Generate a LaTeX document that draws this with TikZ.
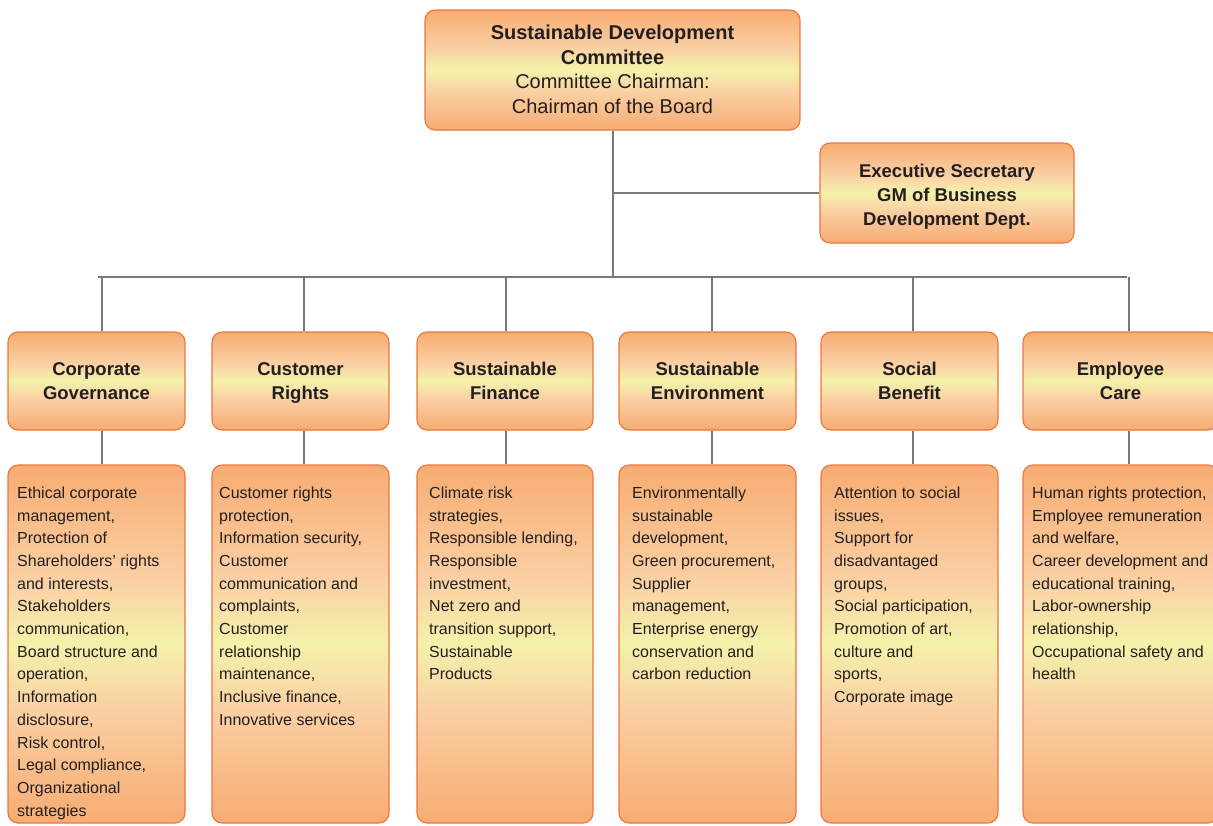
\documentclass[tikz,border=0pt]{standalone}
\usepackage{fontspec}
\setmainfont{Liberation Sans}
\definecolor{boxorange}{RGB}{247,172,114}
\definecolor{boxpeach}{RGB}{250,208,164}
\definecolor{boxyellow}{RGB}{244,242,170}
\definecolor{boxrim}{RGB}{236,118,62}
\definecolor{wiregray}{RGB}{120,120,120}
\definecolor{ink}{RGB}{35,31,32}
\pgfdeclareverticalshading{sunset}{100bp}{color(0bp)=(boxorange); color(25bp)=(boxorange); color(41bp)=(boxpeach); color(50bp)=(boxyellow); color(59bp)=(boxpeach); color(75bp)=(boxorange); color(100bp)=(boxorange)}

\begin{document}
\begin{tikzpicture}[x=1pt, y=1pt,
  box/.style={draw=boxrim, line width=1.1pt, rounded corners=10pt, shading=sunset, text=ink, align=center, inner sep=0pt},
  head/.style={box, minimum width=177, minimum height=98, text height=36pt, text depth=0pt, font=\bfseries\fontsize{18.5}{24}\selectfont},
  list/.style={box, minimum width=177, minimum height=358},
  words/.style={anchor=north west, align=left, inner sep=0pt, text=ink, font=\fontsize{16}{22.7}\selectfont},
  wire/.style={draw=wiregray, line width=1.6pt}]
  \useasboundingbox (0,0) rectangle (1213,-825);

  % committee and secretary
  \node[box, minimum width=375, minimum height=120, text height=86pt, text depth=0pt, font=\fontsize{20}{24.5}\selectfont] (top) at (612.5,-70)
    {\textbf{Sustainable Development}\\\textbf{Committee}\\Committee Chairman:\\Chairman of the Board};
  \node[box, minimum width=254, minimum height=100, text height=64pt, text depth=0pt, font=\bfseries\fontsize{18.5}{24}\selectfont] (exec) at (947,-193)
    {Executive Secretary\\GM of Business\\Development Dept.};
  \coordinate (hub) at (613,-277);

  % working groups
  \node[head] (cg) at (96.5,-381) {Corporate\\Governance};
  \node[head] (cr) at (300.5,-381) {Customer\\Rights};
  \node[head, minimum width=176] (sf) at (505,-381) {Sustainable\\Finance};
  \node[head] (se) at (707.5,-381) {Sustainable\\Environment};
  \node[head] (sb) at (909.5,-381) {Social\\Benefit};
  \node[head, minimum width=195] (ec) at (1120.5,-381) {Employee\\Care};

  \node[list] (cgL) at (96.5,-644) {};
  \node[list] (crL) at (300.5,-644) {};
  \node[list, minimum width=176] (sfL) at (505,-644) {};
  \node[list] (seL) at (707.5,-644) {};
  \node[list] (sbL) at (909.5,-644) {};
  \node[list, minimum width=195] (ecL) at (1120.5,-644) {};

  \node[words] (cgT) at (17,-486.5) {Ethical corporate\\management,\\Protection of\\Shareholders' rights\\and interests,\\Stakeholders\\communication,\\Board structure and\\operation,\\Information\\disclosure,\\Risk control,\\Legal compliance,\\Organizational\\strategies};
  \node[words] (crT) at (219,-486.5) {Customer rights\\protection,\\Information security,\\Customer\\communication and\\complaints,\\Customer\\relationship\\maintenance,\\Inclusive finance,\\Innovative services};
  \node[words] (sfT) at (429,-486.5) {Climate risk\\strategies,\\Responsible lending,\\Responsible\\investment,\\Net zero and\\transition support,\\Sustainable\\Products};
  \node[words] (seT) at (632,-486.5) {Environmentally\\sustainable\\development,\\Green procurement,\\Supplier\\management,\\Enterprise energy\\conservation and\\carbon reduction};
  \node[words] (sbT) at (834,-486.5) {Attention to social\\issues,\\Support for\\disadvantaged\\groups,\\Social participation,\\Promotion of art,\\culture and\\sports,\\Corporate image};
  \node[words] (ecT) at (1032,-486.5) {Human rights protection,\\Employee remuneration\\and welfare,\\Career development and\\educational training,\\Labor-ownership\\relationship,\\Occupational safety and\\health};

  % connectors
  \coordinate (cgX) at (102,-277);
  \coordinate (crX) at (304,-277);
  \coordinate (sfX) at (506,-277);
  \coordinate (seX) at (712,-277);
  \coordinate (sbX) at (913,-277);
  \coordinate (ecX) at (1129,-277);
  \draw[wire] (top.south -| hub) -- (hub);
  \draw[wire] (exec.west -| hub) -- (exec.west);
  \draw[wire] ([xshift=-4]cgX) -- ([xshift=-2]ecX);
  \draw[wire] (cgX) -- (cgX |- cg.north);
  \draw[wire] (crX) -- (crX |- cr.north);
  \draw[wire] (sfX) -- (sfX |- sf.north);
  \draw[wire] (seX) -- (seX |- se.north);
  \draw[wire] (sbX) -- (sbX |- sb.north);
  \draw[wire] (ecX) -- (ecX |- ec.north);
  \draw[wire] (cgX |- cg.south) -- (cgX |- cgL.north);
  \draw[wire] (crX |- cr.south) -- (crX |- crL.north);
  \draw[wire] (sfX |- sf.south) -- (sfX |- sfL.north);
  \draw[wire] (seX |- se.south) -- (seX |- seL.north);
  \draw[wire] (sbX |- sb.south) -- (sbX |- sbL.north);
  \draw[wire] (ecX |- ec.south) -- (ecX |- ecL.north);
\end{tikzpicture}
\end{document}
